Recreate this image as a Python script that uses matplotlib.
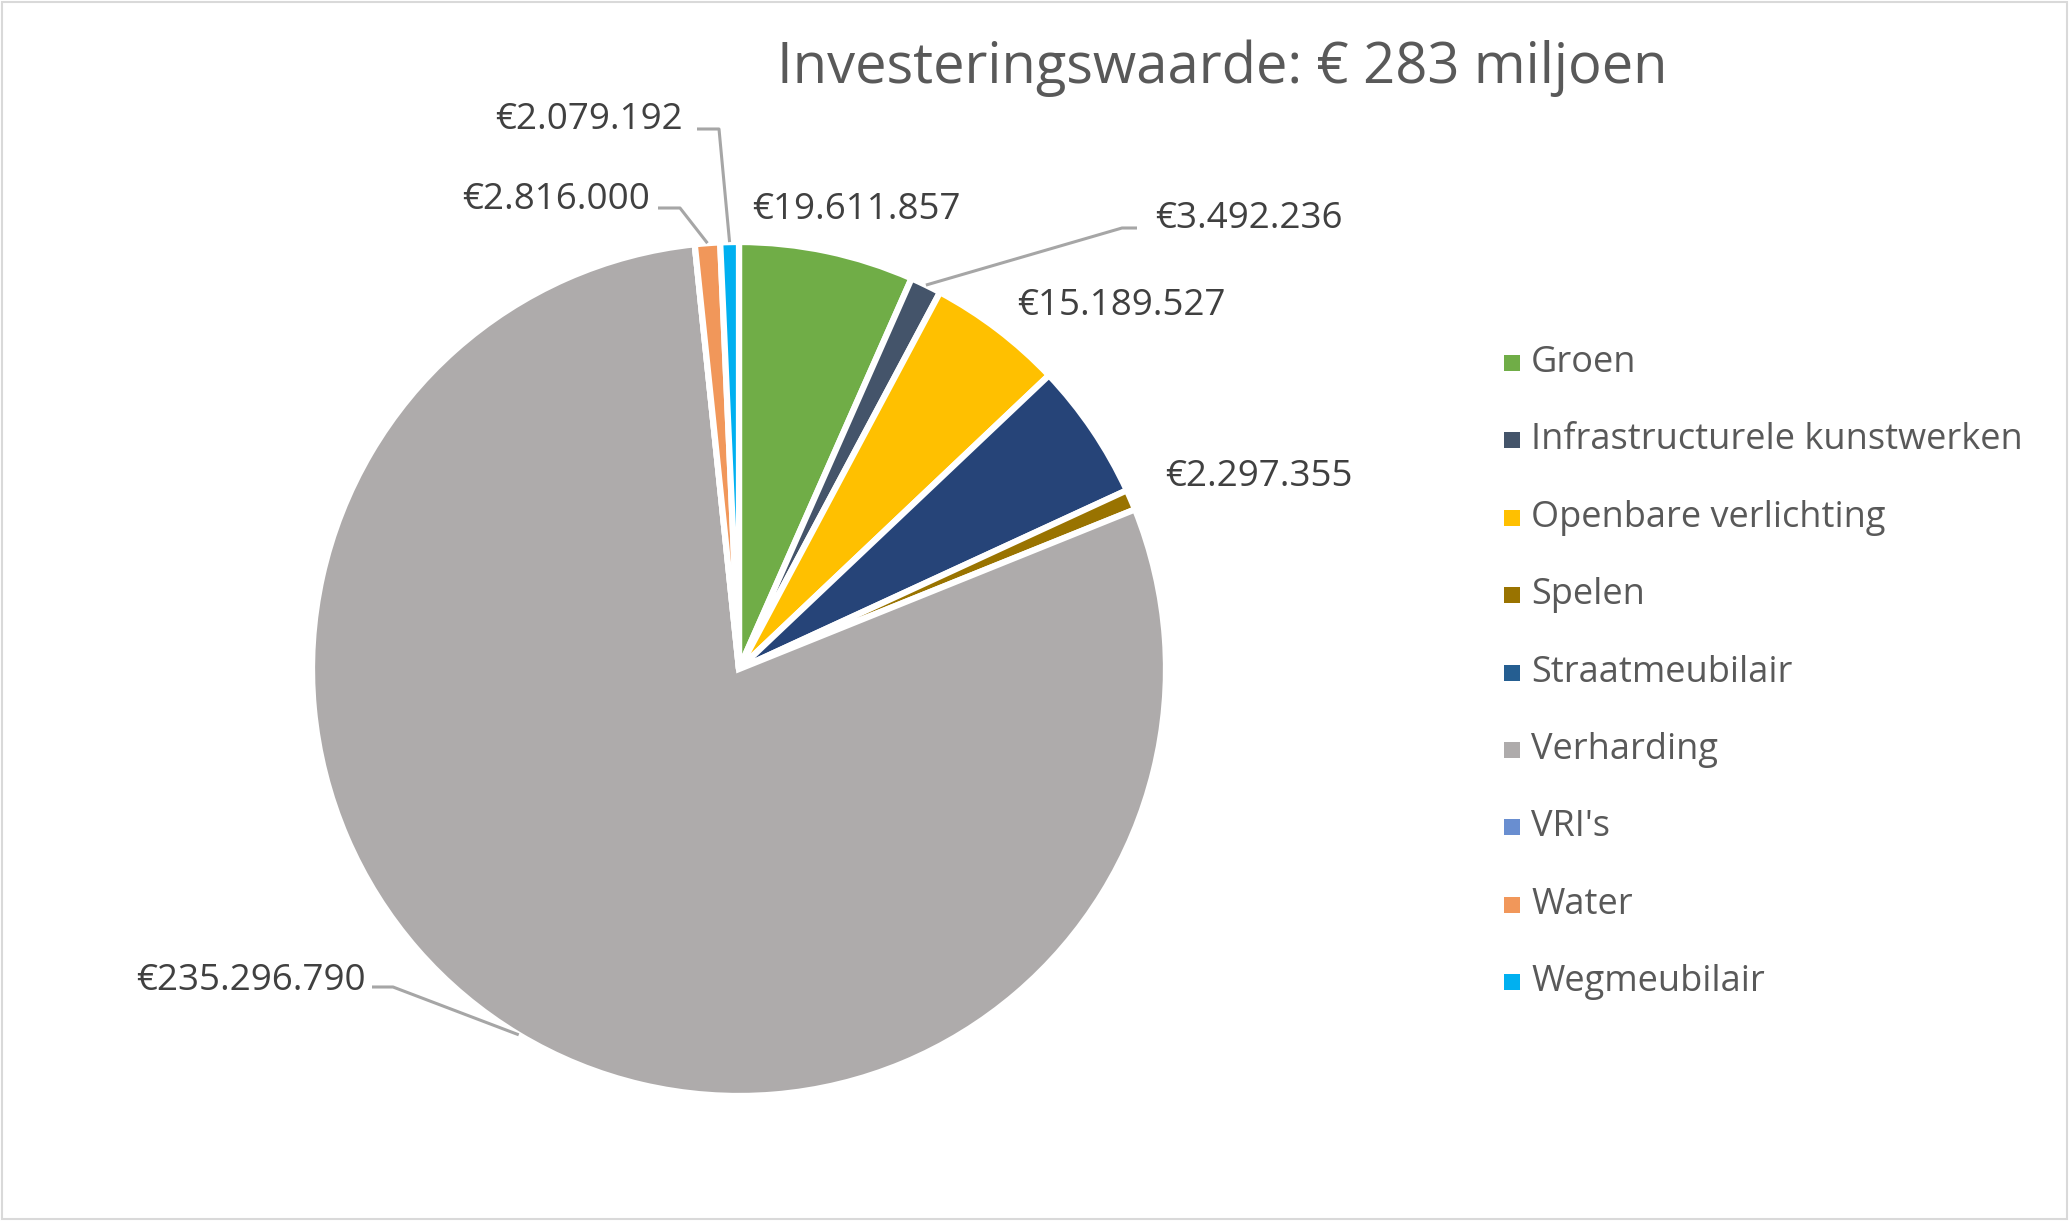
import matplotlib.pyplot as plt
from matplotlib.patches import Rectangle
import numpy as np

# data
categories = ['Groen', 'Infrastructurele kunstwerken', 'Openbare verlichting', 'Spelen',
              'Straatmeubilair', 'Verharding', "VRI's", 'Water', 'Wegmeubilair']
values = [19611857, 3492236, 15189527, 2297355, 15400000, 235296790, 0, 2816000, 2079192]
show_label = [True, True, True, True, False, True, False, True, True]
pie_colors = ['#70AD47', '#44546A', '#FFC000', '#997300', '#264478',
              '#AEABAB', '#698ED0', '#F1975A', '#00B0F0']
legend_colors = ['#70AD47', '#44546A', '#FFC000', '#997300', '#255E91',
                 '#AEABAB', '#698ED0', '#F1975A', '#00B0F0']
# order of the slices clockwise from 12 o'clock
pie_order = [0, 1, 2, 4, 3, 5, 6, 7, 8]
title = 'Investeringswaarde: € 283 miljoen'

# label positions (pixels, top-left origin): text left/center, optional leader elbow + end
label_px = {0: (752, 210), 1: (1155, 219), 2: (1017, 306), 3: (1165, 477),
            5: (136, 981), 7: (462, 200), 8: (495, 120)}
leader_px = {1: [(1122, 228), (1137, 228)], 5: [(393, 987), (372, 987)],
             7: [(680, 208), (658, 208)], 8: [(719, 129), (697, 129)]}

W, H = 2069, 1221
CX, CY, R = 739, 669, 427
LIM = 1.03

plt.rcParams['font.family'] = ['Open Sans', 'DejaVu Sans']

fig = plt.figure(figsize=(W / 100, H / 100), dpi=100)
ax = fig.add_axes([(CX - LIM * R) / W, (H - CY - LIM * R) / H, 2 * LIM * R / W, 2 * LIM * R / H])


def px2data(p):
    return ((p[0] - CX) / R, (CY - p[1]) / R)


vals = [values[i] for i in pie_order]
cols = [pie_colors[i] for i in pie_order]
wedges, _ = ax.pie(vals, colors=cols, startangle=90, counterclock=False, radius=1.0,
                   wedgeprops=dict(edgecolor='white', linewidth=4.5))
ax.set_xlim(-LIM, LIM)
ax.set_ylim(-LIM, LIM)
ax.axis('off')

for w, idx in zip(wedges, pie_order):
    if not show_label[idx]:
        continue
    txt = '€' + f'{values[idx]:,}'.replace(',', '.')
    lx, ly = px2data(label_px[idx])
    ax.text(lx, ly, txt, ha='left', va='center', fontsize=26.5, color='#404040', clip_on=False)
    if idx in leader_px:
        mid = np.deg2rad((w.theta1 + w.theta2) / 2)
        sx, sy = np.cos(mid), np.sin(mid)
        pts = [(sx, sy)] + [px2data(p) for p in leader_px[idx]]
        ax.plot([p[0] for p in pts], [p[1] for p in pts], color='#A6A6A6', lw=2.2,
                clip_on=False, solid_capstyle='butt')

fig.text(1222 / W, 1 - 68 / H, title, ha='center', va='center', fontsize=40.3, color='#595959')

# legend
y0, dy = 363, 77.4
for i, (name, col) in enumerate(zip(categories, legend_colors)):
    yy = y0 + i * dy
    fig.add_artist(Rectangle((1504 / W, 1 - (yy + 8) / H), 16 / W, 16 / H,
                             transform=fig.transFigure, facecolor=col, edgecolor='none'))
    fig.text(1531 / W, 1 - yy / H, name, ha='left', va='center', fontsize=26, color='#595959')

fig.add_artist(Rectangle((0.001, 0.002), 0.998, 0.996, transform=fig.transFigure,
                         facecolor='none', edgecolor='#D9D9D9', lw=1.5))

plt.savefig('out.png', dpi=100)
